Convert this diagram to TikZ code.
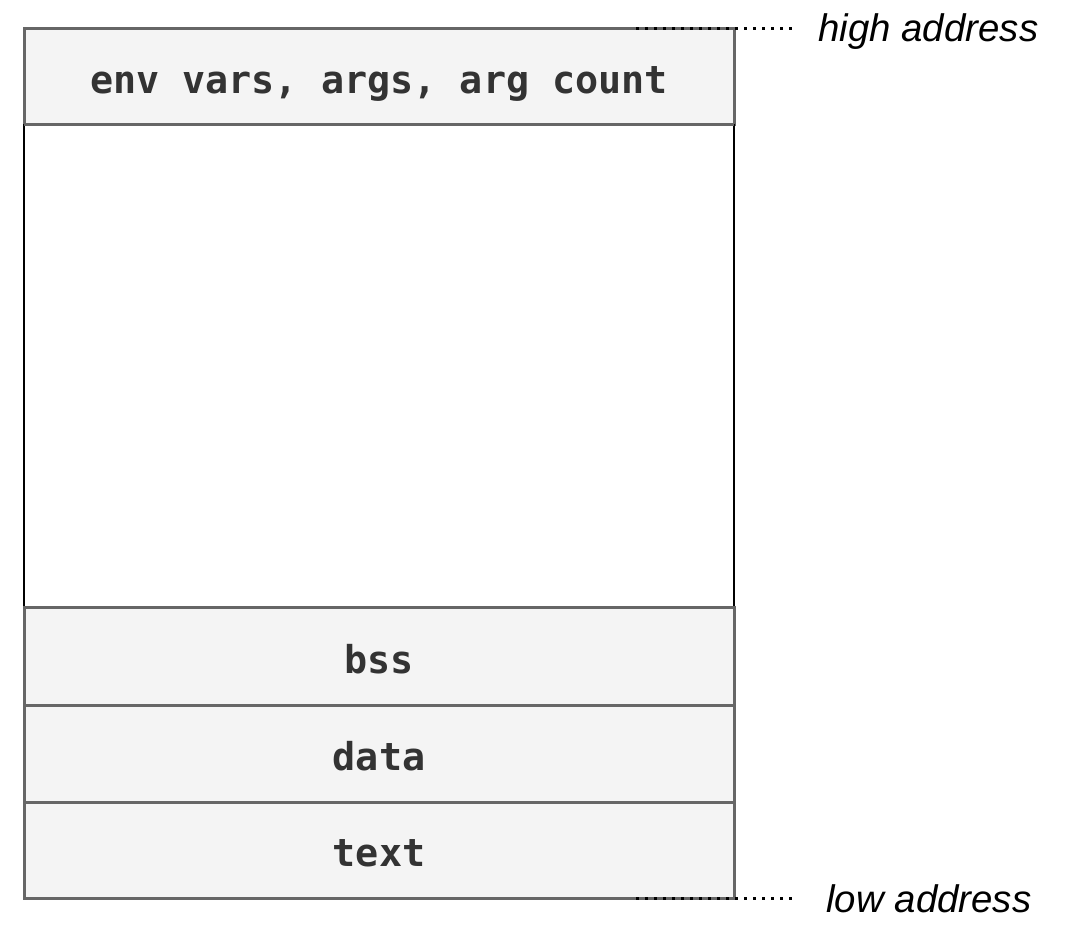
\documentclass[tikz,border=0pt]{standalone}
\usepackage{fontspec}
\setmainfont{Liberation Sans}
\newfontfamily\codefont{DejaVu Sans Mono}
\usepackage{tikz}
\usetikzlibrary{positioning}

\definecolor{segfill}{HTML}{F4F4F4}
\definecolor{segline}{HTML}{666666}
\definecolor{segtext}{HTML}{333333}

\begin{document}
\begin{tikzpicture}[x=0.5pt,y=-0.5pt,node distance=0pt,
    seg/.style={draw=segline,fill=segfill,line width=1.5pt,minimum width=355pt,
      minimum height=48.5pt,outer sep=0pt,inner sep=0pt,text=segtext,
      text height=16.5pt,text depth=0pt,
      font=\codefont\bfseries\fontsize{19.2}{23}\selectfont},
    gap/.style={draw=black,line width=1pt,minimum width=355pt,minimum height=241.5pt,
      outer sep=0pt,inner sep=0pt},
    addr/.style={anchor=base west,inner sep=0pt,font=\itshape\fontsize{19.2}{23}\selectfont},
    addrline/.style={line width=1.5pt,dash pattern=on 1.5pt off 3pt}]
  \useasboundingbox (0,0) rectangle (1086,945);
  \node[seg, minimum height=48pt, anchor=north west] (args) at (24,29) {env vars, args, arg count};
  \node[gap]  (free) [below=of args] {};
  \node[seg]  (bss)  [below=of free] {bss};
  \node[seg]  (data) [below=of bss]  {data};
  \node[seg, minimum height=48pt] (text) [below=of data] {text};
  \draw[segline, line width=1.5pt] (args.south west) -- (args.south east);
  \draw[segline, line width=1.5pt] (bss.north west) -- (bss.north east);
  % address marks
  \coordinate (hiA) at (636,29);
  \coordinate (hiB) at (795,29);
  \coordinate (loA) at (636,898);
  \coordinate (loB) at (795,898);
  \draw[addrline] (hiA) -- (hiB);
  \draw[addrline] (loA) -- (loB);
  \node[addr] (high) at (818,42)  {high address};
  \node[addr] (low)  at (826,912) {low address};
\end{tikzpicture}
\end{document}
